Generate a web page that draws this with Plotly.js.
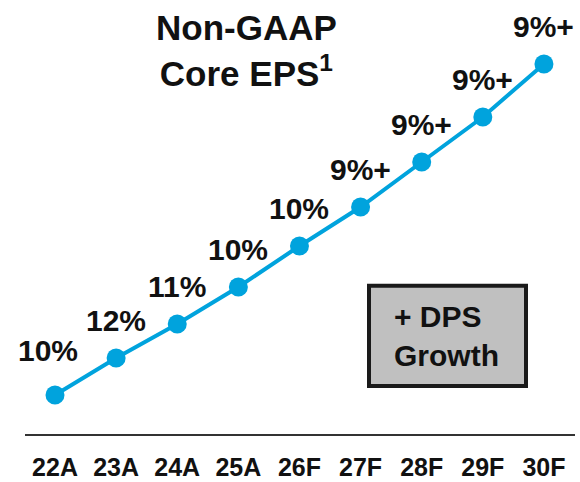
<!DOCTYPE html>
<html>
<head>
<meta charset="utf-8">
<script src="https://cdn.plot.ly/plotly-3.0.1.min.js"></script>
<style>html,body{margin:0;padding:0;background:#fff;}#chart{width:580px;height:482px;}</style>
</head>
<body>
<div id="chart"></div>
<script>
const categories = ['22A','23A','24A','25A','26F','27F','28F','29F','30F'];
const epsIndex = [40, 77, 111, 148, 189, 228, 273, 318, 371];
const growthLabels = ['10%','12%','11%','10%','10%','9%+','9%+','9%+','9%+'];
const titleText = 'Non-GAAP<br>Core EPS<sup>1</sup>';
const boxText = '+ DPS<br>Growth';

const FONT = 'Liberation Sans, Arial, sans-serif';
const BLUE = '#00A3DD';

const trace = {
  x: categories,
  y: epsIndex,
  type: 'scatter',
  mode: 'lines+markers',
  line: {color: BLUE, width: 4},
  marker: {color: BLUE, size: 19},
  hoverinfo: 'skip'
};

const annotations = categories.map((c, i) => ({
  x: c, y: epsIndex[i], xref: 'x', yref: 'y',
  text: '<b>' + growthLabels[i] + '</b>',
  showarrow: false,
  font: {family: FONT, size: 30, color: '#111'},
  xshift: i === 0 ? -7 : 0,
  yshift: i === 0 ? 45 : 38
}));

annotations.push({
  x: 392/580, y: 0.253, xref: 'paper', yref: 'paper',
  xanchor: 'left', yanchor: 'middle', align: 'left',
  text: '<b>' + boxText + '</b>',
  showarrow: false,
  font: {family: FONT, size: 30, color: '#111'}
});

annotations.push({
  x: 246/580, y: (450 - 50) / 450, xref: 'paper', yref: 'paper',
  xanchor: 'center', yanchor: 'middle', align: 'center',
  text: '<b>' + titleText + '</b>',
  showarrow: false,
  font: {family: FONT, size: 35, color: '#111'}
});

const layout = {
  width: 580, height: 482,
  margin: {l: 0, r: 0, t: 0, b: 32},
  paper_bgcolor: '#fff', plot_bgcolor: '#fff',
  showlegend: false,
  xaxis: {
    type: 'category',
    range: [-0.9, 8.59],
    showgrid: false, zeroline: false, showline: false, ticks: '',
    tickfont: {family: FONT, size: 25, color: '#111', weight: 'bold'}
  },
  yaxis: {
    range: [-15, 435],
    visible: false, showgrid: false, zeroline: false
  },
  shapes: [
    {type: 'line', xref: 'paper', yref: 'y', x0: 25/580, x1: 575/580, y0: 0, y1: 0,
     line: {color: '#333', width: 2}},
    {type: 'rect', xref: 'paper', yref: 'paper', x0: 369/580, x1: 526/580, y0: 0.142, y1: 0.365,
     fillcolor: '#C0C0C0', line: {color: '#1a1a1a', width: 4}, layer: 'below'}
  ],
  annotations: annotations
};

Plotly.newPlot('chart', [trace], layout, {displayModeBar: false, staticPlot: true});
</script>
</body>
</html>
